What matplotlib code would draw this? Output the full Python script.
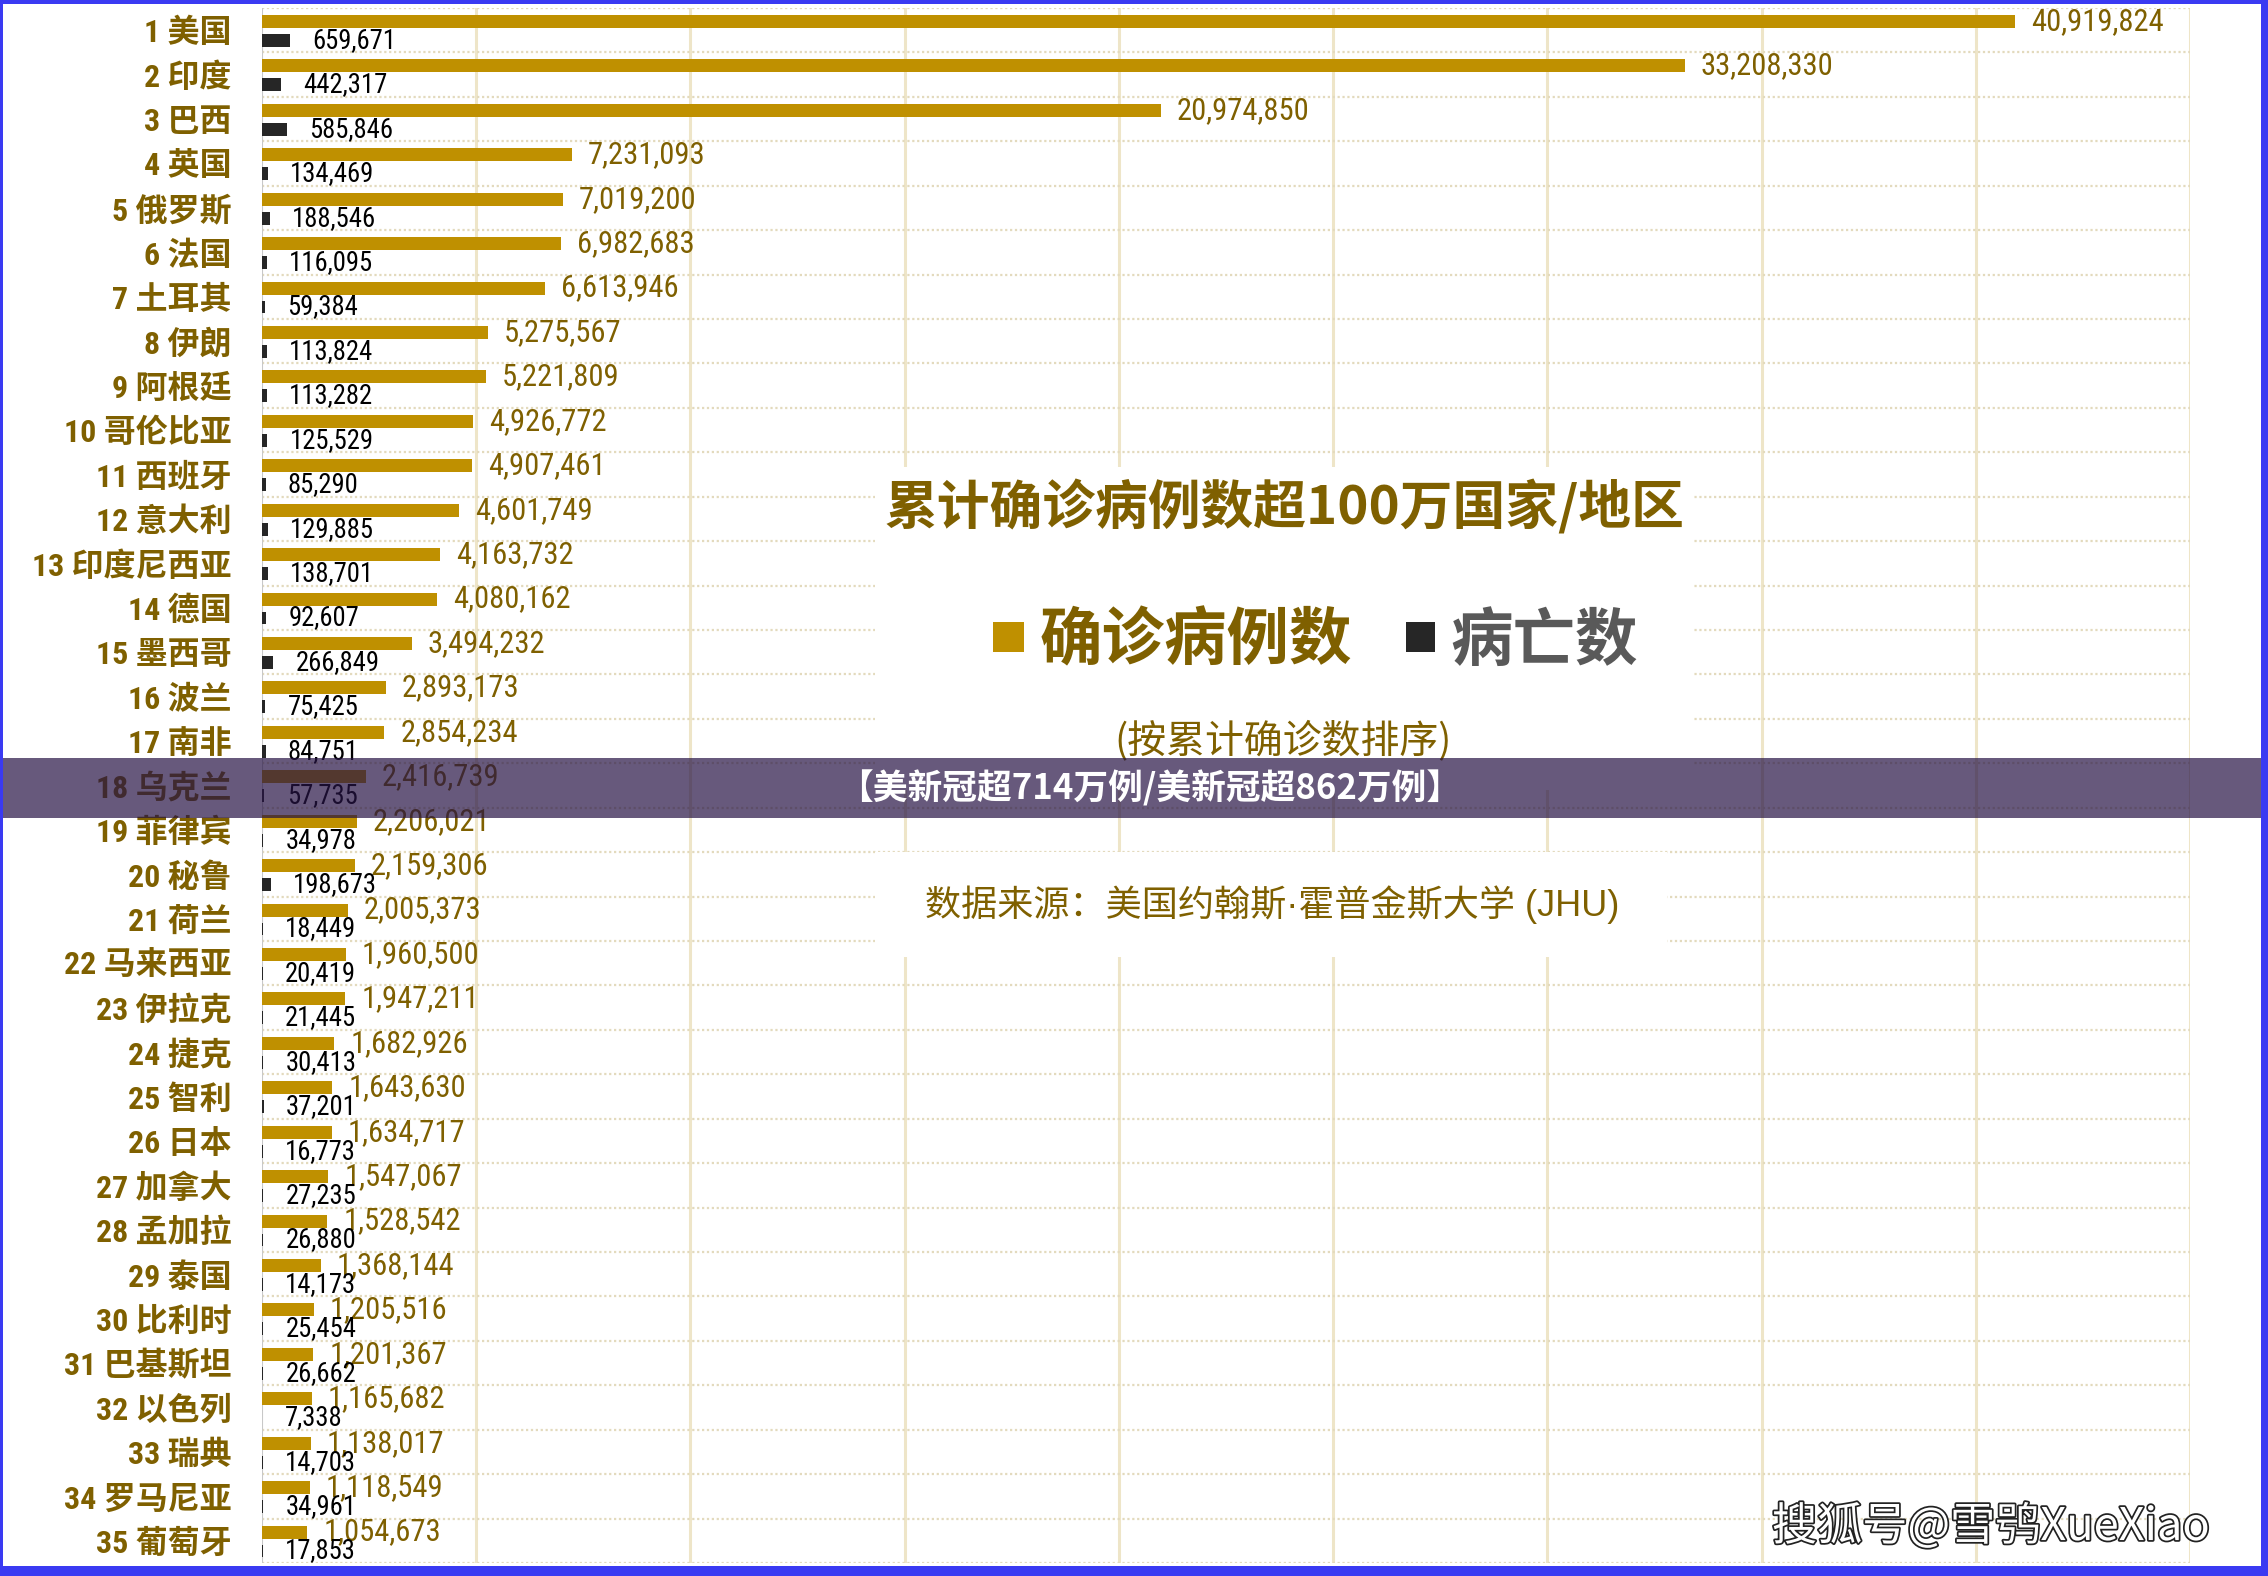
import numpy as np
import matplotlib
matplotlib.use('Agg')
import matplotlib.pyplot as plt
import matplotlib.patheffects as pe
from matplotlib.patches import Rectangle
from matplotlib import font_manager
from matplotlib.font_manager import FontProperties
from matplotlib.textpath import TextToPath

# data (sorted by confirmed cases)
countries = ['美国', '印度', '巴西', '英国', '俄罗斯', '法国', '土耳其', '伊朗', '阿根廷',
             '哥伦比亚', '西班牙', '意大利', '印度尼西亚', '德国', '墨西哥', '波兰', '南非',
             '乌克兰', '菲律宾', '秘鲁', '荷兰', '马来西亚', '伊拉克', '捷克', '智利', '日本',
             '加拿大', '孟加拉', '泰国', '比利时', '巴基斯坦', '以色列', '瑞典', '罗马尼亚', '葡萄牙']
confirmed = [40919824, 33208330, 20974850, 7231093, 7019200, 6982683, 6613946, 5275567,
             5221809, 4926772, 4907461, 4601749, 4163732, 4080162, 3494232, 2893173,
             2854234, 2416739, 2206021, 2159306, 2005373, 1960500, 1947211, 1682926,
             1643630, 1634717, 1547067, 1528542, 1368144, 1205516, 1201367, 1165682,
             1138017, 1118549, 1054673]
deaths = [659671, 442317, 585846, 134469, 188546, 116095, 59384, 113824, 113282, 125529,
          85290, 129885, 138701, 92607, 266849, 75425, 84751, 57735, 34978, 198673,
          18449, 20419, 21445, 30413, 37201, 16773, 27235, 26880, 14173, 25454, 26662,
          7338, 14703, 34961, 17853]
x_ticks = [5e6, 10e6, 15e6, 20e6, 25e6, 30e6, 35e6, 40e6, 45e6]

W, H = 2268, 1576
def fx(px):
    return px / W
def fy(py):
    return 1 - py / H

cjk = 'Noto Sans CJK SC'

# the numbers in the original are set in a narrow font, look for one
num_family, num_stretch = 'Liberation Sans', 'normal'
prefs = ['Liberation Sans Narrow', 'Arial Narrow', 'Roboto Condensed', 'Open Sans Condensed',
         'Noto Sans', 'DejaVu Sans Condensed', 'DejaVu Sans']
found = []
for f in font_manager.fontManager.ttflist:
    narrow = ('Narrow' in f.name or 'Condensed' in f.name or
              f.stretch in ('condensed', 'semi-condensed', 'extra-condensed', 375, 500, 625, 750))
    if narrow and f.style == 'normal' and f.name in prefs:
        found.append((prefs.index(f.name), f.name, f.stretch))
if found:
    found.sort(key=lambda t: t[0])
    num_family, num_stretch = found[0][1], found[0][2]

t2p = TextToPath()
def fit_size(text, target_px, max_size, weight='normal'):
    # font size (pt) so the text is about target_px wide at dpi 100
    prop = FontProperties(family=[num_family, cjk], stretch=num_stretch, weight=weight, size=max_size)
    w, _, _ = t2p.get_text_width_height_descent(text, prop, ismath=False)
    px = w * 100 / 72
    return min(max_size, max_size * target_px / px)

gold_size = fit_size('40,919,824', 133, 22.5)
death_size = fit_size('659,671', 84, 20.5)

gold = '#BF9000'
dark_gold = '#7F6000'
black_bar = '#262626'

fig = plt.figure(figsize=(W / 100, H / 100), dpi=100)
fig.patch.set_facecolor('white')
ax = fig.add_axes([fx(262), fy(1563), (2190 - 262) / W, (1563 - 8) / H])

y = np.arange(len(countries))
ax.barh(y + 0.304, confirmed, height=0.29, color=gold, zorder=3)
ax.barh(y + 0.73, deaths, height=0.29, color=black_bar, zorder=3)

# value labels
for i in range(len(countries)):
    ax.annotate(f'{confirmed[i]:,}', (confirmed[i], i + 0.304), xytext=(11.5, 0),
                textcoords='offset points', va='center', ha='left', fontsize=gold_size,
                color=dark_gold, family=num_family, fontstretch=num_stretch, zorder=4)
    ax.annotate(f'{deaths[i]:,}', (deaths[i], i + 0.73), xytext=(16, 0),
                textcoords='offset points', va='center', ha='left', fontsize=death_size,
                color='black', family=num_family, fontstretch=num_stretch, zorder=4)

# grid
for v in x_ticks:
    ax.axvline(v, color='#EEE5C8', lw=2.2, zorder=1)
ax.axvline(0, color='#C8C8C8', lw=1.5, zorder=2)
ax.hlines(np.arange(len(countries) + 1), 0, 45e6, colors='#E3DABD',
          linestyles=(0, (1, 1.2)), lw=1.6, zorder=1)

ax.set_xlim(0, 45e6)
ax.set_ylim(len(countries), 0)
ax.set_xticks([])
ax.set_yticks(y + 0.5, [f'{i + 1} {c}' for i, c in enumerate(countries)])
ax.tick_params(axis='y', length=0, pad=21.6)
for lab in ax.get_yticklabels():
    lab.set_family([num_family, cjk])
    lab.set_fontstretch(num_stretch)
    lab.set_fontsize(23)
    lab.set_fontweight('bold')
    lab.set_color(dark_gold)
for s in ax.spines.values():
    s.set_visible(False)

# white text boxes over the grid
fig.add_artist(Rectangle((fx(875), fy(790)), (1694 - 875) / W, (790 - 467) / H,
                         transform=fig.transFigure, facecolor='white', edgecolor='none', zorder=2))
fig.add_artist(Rectangle((fx(875), fy(957)), (1667 - 875) / W, (957 - 852) / H,
                         transform=fig.transFigure, facecolor='white', edgecolor='none', zorder=2))

fig.text(fx(1284), fy(508), '累计确诊病例数超100万国家/地区', ha='center', va='center',
         fontsize=38, fontweight='bold', color=dark_gold, family=cjk, zorder=3)
fig.add_artist(Rectangle((fx(993), fy(652)), 31 / W, 30 / H, transform=fig.transFigure,
                         facecolor=gold, edgecolor='none', zorder=3))
fig.text(fx(1040), fy(641), '确诊病例数', ha='left', va='center', fontsize=45,
         fontweight='bold', color=dark_gold, family=cjk, zorder=3)
fig.add_artist(Rectangle((fx(1406), fy(652)), 29 / W, 30 / H, transform=fig.transFigure,
                         facecolor=black_bar, edgecolor='none', zorder=3))
fig.text(fx(1450), fy(641), '病亡数', ha='left', va='center', fontsize=45,
         fontweight='bold', color='#595959', family=cjk, zorder=3)
fig.text(fx(1283), fy(741), '(按累计确诊数排序)', ha='center', va='center', fontsize=28,
         color=dark_gold, family=cjk, zorder=3)
fig.text(fx(1272), fy(905), '数据来源：美国约翰斯·霍普金斯大学 (JHU)', ha='center', va='center',
         fontsize=26, color=dark_gold, family=['Liberation Sans', cjk], zorder=3)

# purple banner
fig.add_artist(Rectangle((0, fy(818)), 1, 60 / H, transform=fig.transFigure,
                         facecolor='#261344', alpha=0.7, edgecolor='none', zorder=4))
fig.text(fx(1150), fy(788), '【美新冠超714万例/美新冠超862万例】', ha='center', va='center',
         fontsize=25, fontweight='bold', color='white', family=cjk, zorder=5)

# watermark
fig.text(fx(1772), fy(1527), '搜狐号@雪鸮XueXiao', ha='left', va='center', fontsize=32.5,
         color='white', family=[cjk, 'Liberation Sans'], zorder=5,
         path_effects=[pe.Stroke(linewidth=2.5, foreground='#222222'), pe.Normal()])

# blue frame
border = '#3A3AF2'
for r in [(0, 0, 3 / W, 1), (0, fy(4), 1, 4 / H), (fx(2261), 0, 7 / W, 1), (0, 0, 1, 10 / H)]:
    fig.add_artist(Rectangle(r[:2], r[2], r[3], transform=fig.transFigure,
                             facecolor=border, edgecolor='none', zorder=6))

fig.savefig('out.png', dpi=100)
